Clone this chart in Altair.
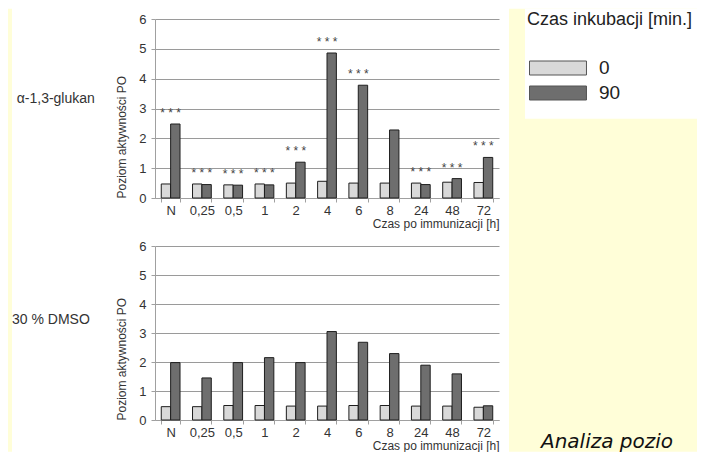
import altair as alt
import pandas as pd

# ---- data ----
kategorie = ["N", "0,25", "0,5", "1", "2", "4", "6", "8", "24", "48", "72"]
inkubacja = ["0", "90"]
glukan_0 = [0.47, 0.47, 0.44, 0.47, 0.50, 0.56, 0.50, 0.50, 0.50, 0.53, 0.52]
glukan_90 = [2.48, 0.45, 0.43, 0.44, 1.20, 4.86, 3.78, 2.28, 0.45, 0.65, 1.36]
dmso_0 = [0.46, 0.46, 0.50, 0.50, 0.48, 0.48, 0.50, 0.50, 0.48, 0.48, 0.44]
dmso_90 = [1.98, 1.45, 1.98, 2.15, 1.98, 3.05, 2.68, 2.29, 1.89, 1.59, 0.49]
gwiazdki = ["N", "0,25", "0,5", "1", "2", "4", "6", "24", "48", "72"]

LIGHT = "#d9d9d9"
DARK = "#6e6e6e"
YELLOW = "#fffed8"
FONT = "Liberation Sans"


def frame(v0, v90):
    rows = []
    for k, a, b in zip(kategorie, v0, v90):
        rows.append({"czas": k, "inkub": "0", "value": a})
        rows.append({"czas": k, "inkub": "90", "value": b})
    return pd.DataFrame(rows)


def stars(v0, v90):
    rows = [{"czas": k, "value": max(a, b)} for k, a, b in zip(kategorie, v0, v90) if k in gwiazdki]
    return pd.DataFrame(rows)


one = pd.DataFrame({"a": [0]})

x_enc = alt.X(
    "czas:N",
    sort=kategorie,
    scale=alt.Scale(paddingInner=0.4, paddingOuter=0.2),
    axis=alt.Axis(
        title="Czas po immunizacji [h]",
        titleAnchor="end",
        labelAngle=0,
        tickBand="extent",
        grid=False,
    ),
)
y_enc = alt.Y(
    "value:Q",
    scale=alt.Scale(domain=[0, 6], nice=False),
    axis=alt.Axis(
        title="Poziom aktywności PO",
        titleAnchor="start",
        values=[0, 1, 2, 3, 4, 5, 6],
        grid=True,
        labelOverlap=False,
    ),
)
fill_enc = alt.Fill(
    "inkub:N",
    sort=inkubacja,
    scale=alt.Scale(domain=inkubacja, range=[LIGHT, DARK]),
    legend=alt.Legend(
        title="Czas inkubacji [min.]",
        orient="none",
        legendX=372,
        legendY=-8.5,
        titleFont=FONT,
        titleFontSize=18,
        titleFontWeight="normal",
        titleColor="#222222",
        titleLimit=400,
        titlePadding=30,
        labelFont=FONT,
        labelFontSize=19,
        labelColor="#222222",
        symbolType="M-1,-1H7.14V1H-1Z",
        symbolSize=196,
        symbolStrokeColor="#555555",
        symbolStrokeWidth=1,
        labelOffset=53,
        rowPadding=5,
        padding=0,
    ),
)


def panel(df, sdf, label, lx, ly, h, decor=None):
    bars = alt.Chart(df).mark_bar(stroke="#1e1e1e", strokeWidth=1).encode(
        x=x_enc,
        xOffset=alt.XOffset("inkub:N", sort=inkubacja,
                            scale=alt.Scale(paddingInner=0, paddingOuter=0)),
        y=y_enc,
        fill=fill_enc,
    )
    layers = []
    if decor is not None:
        layers.extend(decor)
    layers.append(bars)
    if sdf is not None:
        txt = alt.Chart(sdf).mark_text(
            text="* * *", font=FONT, fontSize=12, color="#444444",
            baseline="alphabetic", dy=-7,
        ).encode(
            x=alt.X("czas:N", sort=kategorie),
            y=y_enc,
        )
        layers.append(txt)
    lab = alt.Chart(one).mark_text(
        text=label, font=FONT, fontSize=14, color="#333333",
        align="left", baseline="middle",
    ).encode(x=alt.value(lx), y=alt.value(ly))
    layers.append(lab)
    return alt.layer(*layers).properties(width=344, height=h)


BOTTOM_REL = 432.7  # page y 451 relative to the top panel origin
RIGHT_REL = 542     # page x 697 relative to the top panel origin

decor_top = [
    alt.Chart(one).mark_rect(color=YELLOW).encode(
        x=alt.value(-147), x2=alt.value(-143), y=alt.value(-10.3), y2=alt.value(BOTTOM_REL)),
    alt.Chart(one).mark_rect(color=YELLOW).encode(
        x=alt.value(354), x2=alt.value(RIGHT_REL), y=alt.value(-10.3), y2=alt.value(BOTTOM_REL)),
    alt.Chart(one).mark_rect(color="white").encode(
        x=alt.value(370), x2=alt.value(RIGHT_REL), y=alt.value(-10.3), y2=alt.value(99.7)),
]

decor_bottom = [
    alt.Chart(one).mark_text(
        text="Analiza poziomu aktywności PO", font="DejaVu Sans", fontStyle="italic",
        fontSize=20, color="#111111", align="left", baseline="bottom",
        limit=155, ellipsis=" ",
    ).encode(x=alt.value(386), y=alt.value(205.7)),
]

top = panel(frame(glukan_0, glukan_90), stars(glukan_0, glukan_90),
            "α-1,3-glukan", -138.3, 80, 179, decor_top)
bottom_core = panel(frame(dmso_0, dmso_90), None, "30 % DMSO", -143, 73.7, 174)
bottom = alt.layer(bottom_core, *decor_bottom)

chart = (
    alt.vconcat(top, bottom, spacing=48, bounds="flush")
    .resolve_scale(fill="shared")
    .resolve_legend(fill="shared")
    .properties(padding=0, background="white")
    .configure_view(stroke=None)
    .configure_axis(
        labelFont=FONT,
        titleFont=FONT,
        labelFontSize=13,
        labelColor="#333333",
        titleFontSize=12,
        titleFontWeight="normal",
        titleColor="#333333",
        domainColor="#a0a0a0",
        tickColor="#a0a0a0",
        gridColor="#9a9a9a",
        tickSize=4,
    )
    .configure_axisX(labelPadding=2, titlePadding=1)
    .configure_axisY(labelPadding=5, titlePadding=10)
)

chart.save("out.html", embed_options={"renderer": "svg", "actions": False})
